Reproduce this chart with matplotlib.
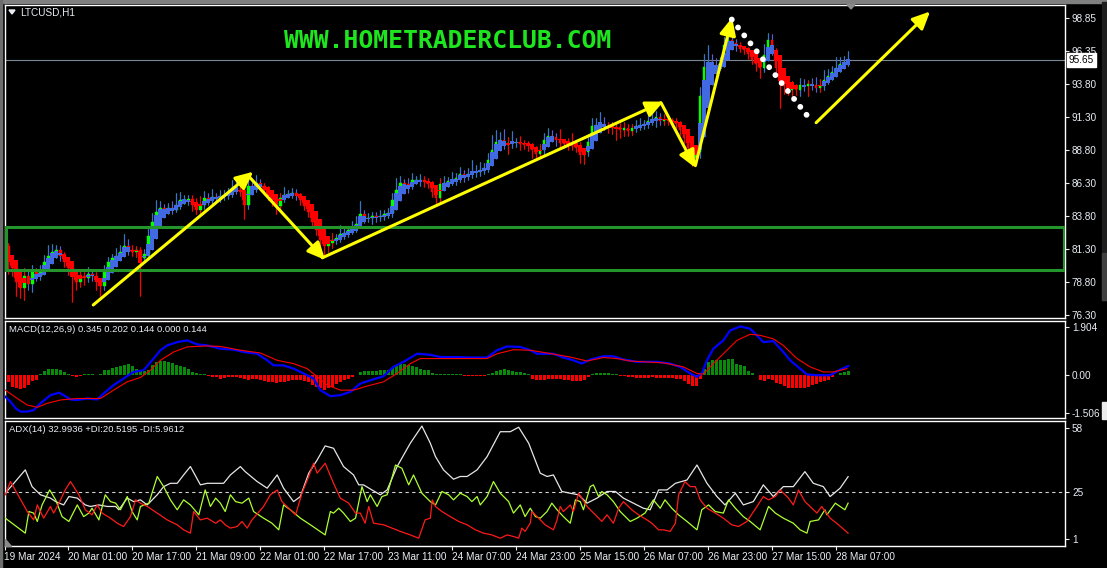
import numpy as np
import matplotlib
matplotlib.use("Agg")
import matplotlib.pyplot as plt
from matplotlib.patches import Rectangle, Polygon, FancyArrowPatch
from matplotlib.transforms import blended_transform_factory

plt.rcParams['font.family'] = ['Liberation Sans', 'DejaVu Sans']

W, H = 1107, 568

# ---------------- price data (LTCUSD, H1) ----------------
first_open = 81.55
closes = [
    80.33, 79.87, 78.81, 78.35, 79.27, 78.66, 79.57, 79.27, 79.72, 80.33,
    80.79, 81.09, 81.24, 80.79, 80.33, 79.87, 79.27, 78.81, 79.27, 79.11,
    79.42, 79.27, 78.81, 78.51, 79.57, 80.33, 80.63, 80.79, 81.09, 81.55,
    81.24, 81.09, 81.24, 80.63, 80.94, 82.31, 83.37, 84.13, 84.43, 84.28,
    84.43, 84.28, 84.66, 85.04, 85.04, 85.12, 84.66, 84.28, 84.66, 85.19,
    85.04, 85.27, 85.19, 85.35, 85.42, 85.65, 85.95, 85.80, 85.65, 84.66,
    86.11, 85.95, 86.33, 86.11, 85.80, 85.35, 85.04, 84.59, 85.19, 85.42,
    85.50, 85.57, 85.35, 85.04, 84.59, 84.13, 83.37, 82.76, 82.00, 81.55,
    81.77, 82.00, 82.15, 82.46, 82.53, 82.76, 82.91, 83.22, 83.98, 83.67,
    83.67, 83.83, 83.75, 83.83, 83.98, 84.05, 85.04, 85.80, 86.33, 86.26,
    86.18, 86.56, 86.56, 86.56, 86.41, 86.26, 85.65, 85.19, 86.26, 86.33,
    86.49, 86.56, 86.71, 87.02, 86.87, 87.02, 87.17, 87.17, 87.32, 87.47,
    88.08, 88.84, 89.45, 89.60, 89.22, 89.37, 89.37, 89.45, 89.30, 89.22,
    89.15, 88.84, 88.54, 88.84, 89.60, 89.91, 89.83, 89.60, 89.37, 89.30,
    89.22, 89.15, 88.99, 88.46, 88.69, 89.45, 90.66, 90.74, 90.82, 90.66,
    90.51, 90.51, 90.59, 90.36, 90.51, 90.28, 90.51, 90.66, 90.74, 90.82,
    91.05, 91.20, 91.35, 91.05, 91.12, 91.05, 90.97, 90.82, 90.36, 89.75,
    88.99, 88.23, 88.69, 92.90, 95.10, 95.50, 95.30, 95.20, 95.45, 96.82,
    97.20, 96.97, 96.74, 96.52, 96.44, 96.14, 95.68, 95.38, 95.07, 96.06,
    97.20, 96.29, 95.07, 94.01, 93.70, 93.40, 93.55, 93.40, 93.78, 93.70,
    93.86, 93.78, 93.55, 93.70, 94.16, 94.46, 94.77, 95.07, 95.38, 95.53,
    95.65,
]
wick_up = (
    [0.2, 0.3, 0.2, 0.3, 0.6, 0.4, 0.5, 0.3, 0.4, 0.5, 0.8, 0.6, 0.4, 0.3]
    + [0.3, 0.2, 0.3, 0.2, 0.4, 0.3, 0.5, 0.4, 0.3, 0.2, 0.5, 0.4, 0.3, 0.6, 0.5]
    + [0.9, 0.5, 0.4, 0.3, 0.2, 0.4, 0.6, 0.7, 0.9, 0.5, 0.3, 0.4, 0.5, 0.9, 0.6,
       0.4, 0.3, 0.3, 0.5, 0.7, 0.5, 0.4, 0.6, 0.3, 0.4]
    + [0.4, 0.3, 0.6, 0.8, 0.3, 0.5, 0.7, 0.4, 0.6, 0.3, 0.2, 0.3, 0.2, 0.3, 0.4,
       0.6, 0.3, 0.4, 0.3, 0.2, 0.2, 0.3, 0.2, 0.3, 0.2, 0.4, 0.5]
    + [0.5, 0.3, 0.7, 0.4, 0.3, 0.5, 0.6, 1.0, 0.3, 0.4, 0.3, 0.3, 0.4, 0.3, 0.4,
       0.5, 0.9, 0.5, 0.3, 0.4, 0.5, 0.3, 0.4, 0.3, 0.3, 0.2, 0.3, 0.4, 0.5, 0.3]
    + [0.6, 0.4, 0.5, 0.3, 0.4, 0.9, 0.5, 0.6, 0.4, 0.5, 1.1, 0.9, 0.6, 0.8, 0.4,
       0.9, 0.3, 0.4, 0.3, 0.3, 0.2, 0.3, 0.4, 0.5, 0.6, 0.4, 0.3, 0.8, 0.3, 0.4,
       0.9, 0.3, 0.4, 0.3, 0.5]
    + [0.6, 0.5, 0.9, 0.5, 0.3, 0.4, 0.3, 0.3, 0.4, 0.3, 0.3, 0.4, 0.5, 0.3, 0.4,
       0.5, 0.4, 0.3, 0.4, 0.3, 0.2, 0.3, 0.2, 0.3, 0.3, 0.2, 0.3]
    + [0.7, 1.0, 1.3, 0.6, 0.5, 0.4, 0.6, 0.6, 0.4, 0.3, 0.3, 0.2, 0.2, 0.3, 0.2,
       0.4, 0.8, 0.5, 0.4, 0.3, 0.2, 0.4, 0.3, 0.5, 0.3, 0.5, 0.4, 0.3, 0.4, 0.6,
       0.5, 0.7, 0.5, 0.4, 0.8, 0.5, 0.4, 0.7]
)
wick_dn = (
    [0.9, 0.6, 1.1, 0.8, 0.9, 0.5, 0.6, 0.4, 0.3, 0.3, 0.4, 0.3, 0.5, 0.4]
    + [0.4, 0.5, 2.0, 0.6, 0.4, 0.5, 0.3, 0.4, 0.6, 0.8, 0.3, 0.4, 0.3, 0.3, 0.3]
    + [0.3, 0.4, 0.3, 0.4, 2.9, 0.3, 0.3, 0.3, 0.4, 0.3, 0.4, 0.3, 0.3, 0.2, 0.3,
       0.3, 0.4, 0.5, 0.3, 0.3, 0.3, 0.4, 0.3, 0.3, 0.3]
    + [0.3, 0.3, 0.4, 0.3, 0.3, 1.1, 0.3, 0.3, 0.3, 0.3, 0.4, 0.3, 0.5, 0.6, 0.3,
       0.3, 0.2, 0.3, 0.3, 0.4, 0.3, 0.4, 0.5, 0.4, 0.6, 0.7, 0.5]
    + [0.4, 0.3, 0.3, 0.4, 0.3, 0.3, 0.3, 0.3, 0.4, 0.3, 0.5, 0.4, 0.3, 0.3, 0.3,
       0.3, 0.3, 0.3, 0.4, 0.6, 0.3, 0.3, 0.5, 0.4, 0.3, 0.4, 0.5, 0.4, 0.3, 0.3]
    + [0.3, 0.4, 0.3, 0.5, 0.3, 0.3, 0.4, 0.3, 0.3, 0.3, 0.3, 0.3, 0.4, 0.3, 0.7,
       0.4, 0.3, 0.5, 0.3, 0.4, 0.6, 0.5, 0.3, 0.3, 0.3, 0.3, 0.5, 0.4, 0.3, 0.4,
       0.3, 0.3, 0.6, 0.7, 0.3]
    + [0.3, 0.4, 0.3, 0.3, 0.4, 0.5, 0.9, 0.6, 0.5, 0.4, 0.3, 0.3, 0.3, 0.3, 0.3,
       0.3, 0.6, 0.3, 0.3, 0.3, 0.4, 0.3, 0.4, 0.4, 0.5, 0.6, 0.5]
    + [0.5, 0.4, 0.4, 0.3, 0.4, 0.3, 0.3, 0.3, 0.3, 0.4, 0.3, 0.3, 0.4, 0.3, 0.6,
       0.8, 0.3, 0.4, 0.3, 0.6, 2.0, 0.6, 0.4, 0.6, 0.4, 0.5, 0.4, 0.8, 0.4, 0.3,
       0.3, 0.3, 0.3, 0.3, 0.2, 0.3, 0.3, 0.3]
)

price_ticks = [98.85, 96.35, 93.80, 91.30, 88.80, 86.30, 83.80, 81.30, 78.80, 76.30]
last_price = 95.65
zone = (79.72, 82.99)
time_labels = ['19 Mar 2024', '20 Mar 01:00', '20 Mar 17:00', '21 Mar 09:00',
               '22 Mar 01:00', '22 Mar 17:00', '23 Mar 11:00', '24 Mar 07:00',
               '24 Mar 23:00', '25 Mar 15:00', '26 Mar 07:00', '26 Mar 23:00',
               '27 Mar 15:00', '28 Mar 07:00']

# drawn objects on the chart (bar index, price)
arrows = [((21.2, 77.06), (61.2, 87.17)),
          ((60.2, 86.79), (79.2, 80.48)),
          ((78.5, 80.64), (163.8, 92.49)),
          ((163.2, 92.41), (171.8, 87.47)),
          ((171.8, 87.63), (181.0, 98.87)),
          ((202.0, 90.89), (230.5, 99.33))]
dotted = ((180.9, 98.72), (201.0, 90.95))

# ---------------- MACD(12,26,9) ----------------
hist = [
    -0.28, -0.48, -0.54, -0.57, -0.52, -0.41, -0.26, -0.19, 0.03, 0.15,
    0.22, 0.24, 0.24, 0.18, 0.11, 0.02, -0.06, -0.09, -0.06, 0.02,
    0.01, 0.02, -0.02, 0.02, 0.18, 0.20, 0.27, 0.31, 0.33, 0.37,
    0.41, 0.35, 0.22, 0.15, 0.14, 0.20, 0.37, 0.49, 0.54, 0.54,
    0.51, 0.45, 0.39, 0.35, 0.30, 0.22, 0.11, 0.05, 0.02, 0.01,
    -0.05, -0.09, -0.11, -0.15, -0.14, -0.11, -0.10, -0.09, -0.12, -0.18,
    -0.19, -0.18, -0.16, -0.19, -0.23, -0.27, -0.30, -0.32, -0.30, -0.27,
    -0.23, -0.20, -0.19, -0.22, -0.24, -0.28, -0.39, -0.48, -0.54, -0.61,
    -0.54, -0.48, -0.37, -0.28, -0.22, -0.15, -0.09, -0.03, 0.10, 0.15,
    0.15, 0.15, 0.15, 0.18, 0.18, 0.20, 0.28, 0.36, 0.41, 0.41,
    0.37, 0.33, 0.30, 0.24, 0.20, 0.18, 0.05, 0.02, 0.02, 0.02,
    0.03, 0.02, 0.03, 0.02, -0.06, -0.06, -0.06, -0.06, -0.06, -0.06,
    0.02, 0.07, 0.15, 0.20, 0.22, 0.20, 0.16, 0.12, 0.10, 0.07,
    0.02, -0.15, -0.19, -0.19, -0.19, -0.16, -0.16, -0.16, -0.17, -0.19,
    -0.21, -0.23, -0.26, -0.24, -0.22, -0.09, 0.04, 0.05, 0.05, 0.05,
    0.05, 0.04, 0.02, -0.06, -0.06, -0.08, -0.11, -0.12, -0.12, -0.13,
    -0.12, -0.11, -0.12, -0.13, -0.12, -0.12, -0.13, -0.15, -0.16, -0.25,
    -0.35, -0.44, -0.45, -0.15, 0.24, 0.52, 0.60, 0.60, 0.60, 0.60,
    0.63, 0.62, 0.44, 0.40, 0.33, 0.15, 0.05, -0.02, -0.22, -0.24,
    -0.15, -0.19, -0.32, -0.37, -0.45, -0.52, -0.54, -0.54, -0.54, -0.52,
    -0.48, -0.41, -0.35, -0.30, -0.26, -0.22, -0.09, -0.02, 0.06, 0.12,
    0.14,
]
macd_line = [(-0.8, -0.87), (0.5, -1.07), (1.8, -1.33), (3, -1.46), (4.7, -1.46),
             (6.3, -1.40), (8, -1.13), (10.5, -0.81), (12.6, -0.71), (13.8, -0.81),
             (15.5, -0.98), (17.2, -1.0), (19.7, -0.94), (22.2, -0.98), (23.8, -0.74),
             (26.3, -0.41), (28.8, -0.15), (31.3, 0.11), (33.8, 0.18), (36.3, 0.64),
             (38, 0.97), (39.7, 1.16), (42.2, 1.29), (44.7, 1.36), (47.2, 1.20),
             (49.7, 1.16), (53, 1.03), (56.3, 0.99), (58.8, 0.90), (62.2, 0.83),
             (64.7, 0.57), (66.3, 0.37), (68.8, 0.37), (71.3, 0.24), (73.8, 0.05),
             (76.3, -0.15), (78, -0.61), (80.5, -0.85), (83, -0.81), (85.5, -0.68),
             (88, -0.35), (90.5, -0.22), (93.8, -0.06), (96.3, 0.31), (98.8, 0.51),
             (102.2, 0.83), (105.5, 0.79), (108, 0.70), (112.2, 0.70), (115.5, 0.68),
             (119.7, 0.68), (122.2, 0.97), (124.7, 1.12), (128, 1.10), (130.5, 0.97),
             (132.2, 0.83), (136.3, 0.83), (138.8, 0.68), (141.3, 0.57), (143.4, 0.44),
             (145.5, 0.60), (148.8, 0.73), (151.3, 0.73), (153.8, 0.60), (157.2, 0.51),
             (162.2, 0.51), (165.5, 0.44), (168, 0.31), (170.5, 0.05), (172.2, -0.08),
             (173.4, 0.05), (174.7, 0.57), (176.3, 1.03), (178.8, 1.36), (180.5, 1.75),
             (183, 1.91), (185.5, 1.82), (187.6, 1.49), (188.8, 1.29), (191.3, 1.33),
             (193.8, 0.90), (195.5, 0.57), (198, 0.24), (199.7, 0.01), (202.2, -0.02),
             (205.5, -0.02), (208, 0.20), (210, 0.34)]
signal_line = [(-0.8, -0.61), (2.2, -0.94), (4.7, -1.20), (7.2, -1.29), (9.7, -1.13),
               (13, -1.0), (17.2, -0.94), (23, -0.94), (26.3, -0.61), (29.7, -0.28),
               (33, -0.11), (35.5, 0.18), (38, 0.57), (41.3, 0.90), (44.7, 1.10),
               (49.7, 1.14), (53, 1.12), (58, 0.97), (63, 0.86), (67.2, 0.57),
               (71.3, 0.44), (74.7, 0.24), (77.2, -0.08), (79.7, -0.41), (83, -0.61),
               (86.3, -0.61), (89.7, -0.45), (93.8, -0.28), (97.2, 0.05), (100.5, 0.44),
               (103, 0.64), (105.5, 0.64), (119.7, 0.64), (122.2, 0.83), (126.3, 0.99),
               (130.5, 0.97), (134.7, 0.86), (140.5, 0.70), (144.7, 0.54), (148.8, 0.68),
               (152.2, 0.64), (155.5, 0.54), (163.8, 0.47), (168.8, 0.31), (172.2, 0.05),
               (173.8, 0.02), (176.3, 0.44), (178.8, 0.83), (182.2, 1.36), (185.5, 1.60),
               (188, 1.56), (191.3, 1.42), (193.8, 1.16), (197.2, 0.64), (200.5, 0.31),
               (203.8, 0.11), (206.3, 0.11), (209.7, 0.24)]

# ---------------- ADX(14) ----------------
adx_line = [(-0.8, 24.5), (4.2, 36.5), (5.9, 27.9), (8, 23.7), (10.5, 22.0), (11.8, 20.2),
            (13.8, 18.5), (15.1, 22.8), (17.2, 22.0), (19.2, 18.5), (20.5, 17.7), (22.6, 18.5),
            (24.7, 17.7), (26.8, 17.7), (27.6, 16.0), (29.7, 22.0), (31.3, 20.2), (33, 21.1),
            (34.7, 18.5), (37.2, 23.7), (38.8, 27.9), (40.5, 29.6), (42.2, 29.6), (43.8, 33.9),
            (45.5, 38.2), (48, 28.8), (49.7, 29.6), (52.2, 29.6), (53.8, 29.6), (55.5, 33.9),
            (58, 38.2), (59.2, 35.6), (62.2, 30.5), (64.7, 27.1), (67.2, 33.9), (68.8, 27.1),
            (71.3, 20.2), (73, 22.8), (75.1, 34.8), (77.2, 41.6), (79.2, 48.8), (81.3, 47.6),
            (83.8, 38.2), (86.3, 33.9), (87.6, 28.8), (88.8, 28.8), (90.9, 26.2), (93, 23.7),
            (94.7, 26.2), (97.2, 38.2), (100.5, 50.2), (103.4, 59.0), (105.5, 50.2), (106.8, 43.3),
            (108.8, 36.5), (111.3, 31.7), (113, 33.1), (114.7, 33.1), (117.2, 36.5), (119.7, 43.3),
            (123, 56.1), (125.5, 56.1), (127.6, 58.4), (130.1, 50.2), (133, 34.8), (134.7, 33.1),
            (136.3, 33.9), (138.4, 25.4), (140.5, 24.5), (142.6, 23.7), (144.7, 19.4), (147.2, 22.0),
            (149.7, 25.4), (151.8, 25.4), (153.8, 22.0), (156.3, 19.4), (158.8, 16.8), (160.5, 16.0),
            (162.6, 26.2), (164.7, 26.2), (166.8, 29.6), (169.7, 31.3), (172.2, 39.0), (174.7, 29.6),
            (177.2, 22.8), (179.2, 18.5), (181.8, 24.5), (183.8, 18.5), (186.3, 20.2), (188.8, 28.8),
            (191.3, 22.8), (193.8, 27.9), (196.3, 27.9), (199.2, 35.6), (201.3, 29.6), (203.8, 27.9),
            (205.5, 22.8), (208, 27.1), (210, 33.0)]
plus_di = [(-0.8, 11.7), (4.2, 4.0), (5.1, 15.1), (6.3, 14.3), (7.2, 10.0), (8.4, 18.5),
           (10.3, 26.2), (11.8, 21.1), (13.4, 12.5), (15.1, 10.0), (17.2, 18.5), (18.8, 12.5),
           (20.1, 14.3), (20.9, 16.8), (22.6, 10.8), (24.2, 23.7), (25.5, 20.2), (26.8, 19.4),
           (28, 16.0), (29.7, 22.8), (30.9, 15.1), (32.2, 10.8), (33, 17.7), (35.1, 19.4),
           (37.2, 33.1), (38.8, 27.9), (40.5, 21.1), (42.2, 16.0), (43.8, 21.1), (45.5, 18.5),
           (47.6, 13.4), (49.2, 26.2), (50.5, 17.7), (51.8, 22.0), (53, 19.4), (54.2, 15.1),
           (55.5, 23.7), (56.8, 20.2), (58.4, 19.4), (60.1, 22.0), (61.3, 15.1), (63.8, 11.7),
           (65.9, 9.1), (67.6, 5.7), (68.8, 18.5), (70.5, 16.0), (73, 11.7), (75.5, 8.3),
           (79.2, 3.1), (80.5, 15.1), (81.3, 14.3), (82.6, 16.8), (83.8, 14.3), (85.5, 10.0),
           (86.8, 11.7), (88.4, 27.9), (89.7, 20.2), (90.5, 23.7), (92.2, 17.7), (93.4, 22.8),
           (94.7, 23.7), (96.8, 39.0), (98.4, 37.3), (100.1, 28.8), (101.3, 33.9), (103.4, 24.5),
           (105.5, 20.2), (106.8, 18.5), (108.4, 25.4), (110.1, 23.7), (111.3, 21.1), (113, 24.5),
           (114.7, 22.8), (115.9, 20.2), (117.2, 22.8), (118, 18.5), (119.7, 22.8), (121.3, 30.5),
           (123, 24.5), (125.1, 20.2), (126.3, 14.3), (128, 18.5), (129.2, 12.5), (130.5, 16.8),
           (131.8, 12.5), (133, 11.7), (134.7, 15.1), (135.9, 19.4), (137.2, 16.0), (138.8, 12.5),
           (140.5, 9.1), (141.8, 21.1), (143, 20.2), (143.8, 16.0), (145.5, 27.9), (146.3, 28.8),
           (147.6, 22.8), (148.4, 25.4), (149.7, 23.7), (151.3, 20.2), (153, 15.1), (155.5, 10.0),
           (157.2, 11.7), (159.2, 14.3), (161.3, 21.1), (163, 16.8), (164.2, 21.1), (165.9, 16.8),
           (167.6, 13.4), (169.7, 10.0), (172.2, 5.7), (173.4, 16.0), (175.1, 18.5), (176.8, 15.1),
           (178.8, 14.3), (180.1, 21.1), (181.8, 16.8), (183.8, 12.5), (185.5, 10.0), (188, 5.7),
           (190.1, 17.7), (191.8, 14.3), (193.8, 11.7), (196.3, 9.1), (198, 5.7), (199.7, 4.0),
           (200.5, 10.0), (202.6, 10.8), (204.2, 16.0), (204.7, 13.4), (206.8, 19.4), (208, 17.7),
           (209.2, 16.0), (210, 19.4)]
minus_di = [(-0.8, 23.7), (0.5, 30.5), (2.6, 22.8), (4.7, 15.1), (6.3, 10.8), (7.2, 18.5),
            (8.8, 11.7), (10.5, 17.7), (11.3, 14.3), (12.6, 19.4), (14.2, 26.2), (15.5, 30.5),
            (17.6, 23.7), (19.2, 16.0), (20.9, 13.4), (22.2, 18.5), (23.4, 14.3), (25.5, 11.7),
            (27.2, 9.1), (28.8, 7.4), (30.5, 12.5), (31.8, 21.1), (33, 19.4), (34.7, 17.7),
            (37.2, 14.3), (39.7, 10.8), (42.2, 8.3), (43.8, 5.7), (45.5, 4.0), (46.3, 15.1),
            (48, 10.8), (49.7, 11.7), (51.8, 9.1), (53, 10.8), (54.2, 8.3), (55.5, 6.6),
            (57.2, 7.4), (58.4, 10.0), (59.7, 6.6), (60.9, 10.8), (63.8, 17.7), (65.5, 23.7),
            (67.2, 26.2), (68.4, 20.2), (70.5, 16.0), (71.8, 13.4), (73.4, 24.5), (75.1, 33.1),
            (76.3, 39.9), (77.2, 34.8), (79.2, 39.9), (81.3, 29.6), (83, 22.0), (85.1, 19.4),
            (86.8, 14.3), (88, 14.3), (89.2, 9.1), (90.1, 17.7), (91.3, 9.1), (93.8, 8.3),
            (95.9, 6.6), (98, 4.9), (100.5, 3.1), (102.6, 1.4), (104.2, 10.8), (105.5, 11.7),
            (106, 21.1), (106.8, 17.7), (108.4, 15.1), (110.5, 12.5), (112.6, 10.0), (114.7, 8.3),
            (116.8, 5.7), (118.8, 4.0), (120.9, 3.1), (123, 1.4), (124.7, 3.1), (126.3, 2.3),
            (127.6, 1.4), (128.4, 6.6), (129.2, 4.9), (130.5, 9.1), (130.9, 15.1), (132.6, 11.7),
            (134.2, 8.3), (136.3, 5.7), (137.2, 10.8), (138, 17.7), (138.8, 15.1), (140.5, 18.5),
            (141.3, 15.1), (142.6, 24.5), (144.7, 17.7), (146.8, 13.4), (148.4, 10.0), (149.7, 13.4),
            (151.3, 9.1), (152.6, 16.8), (153.8, 20.2), (155.9, 16.0), (157.6, 13.4), (159.7, 10.8),
            (160.9, 9.1), (162.6, 5.7), (163.8, 5.7), (165.5, 4.9), (166.8, 9.1), (167.6, 23.7),
            (169.2, 30.5), (170.5, 27.9), (171.8, 27.9), (173, 21.1), (174.7, 16.8), (176.8, 14.3),
            (178.8, 11.7), (180.9, 8.3), (182.6, 7.4), (184.7, 10.0), (187.2, 17.7), (188.8, 22.8),
            (190.1, 21.1), (191.8, 22.8), (193, 26.2), (195.1, 22.0), (196.3, 18.5), (197.6, 26.2),
            (199.2, 20.2), (200.5, 17.7), (202.2, 14.3), (203.4, 17.7), (205.5, 11.7), (207.6, 8.3),
            (210, 4.0)]


def frac(x0, y0, x1, y1):
    # pixel box -> figure fraction rect
    return [x0 / W, 1 - y1 / H, (x1 - x0) / W, (y1 - y0) / H]


def px(x, y):
    return x / W, 1 - y / H


fig = plt.figure(figsize=(W / 100, H / 100), dpi=100, facecolor='black')
ax = fig.add_axes(frac(4.5, 4.5, 1065, 318))
am = fig.add_axes(frac(4.5, 320.5, 1065, 418))
aa = fig.add_axes(frac(4.5, 421, 1065, 546))

fg = '#e8eef4'
for a in (ax, am, aa):
    a.set_facecolor('black')
    for s in a.spines.values():
        s.set_color('white')
        s.set_linewidth(1)
    a.set_xlim(-1, 264.25)
    a.yaxis.tick_right()
    a.tick_params(axis='both', colors=fg, labelsize=7.2, length=3, width=0.8, pad=2)
    a.set_xticks([])

# ---- candles + heiken ashi ----
c = np.array(closes)
o = np.concatenate([[first_open], c[:-1]])
hi = np.maximum(o, c) + np.array(wick_up)
lo = np.minimum(o, c) - np.array(wick_dn)
x = np.arange(len(c))

ha_c = (o + hi + lo + c) / 4
ha_o = np.empty_like(ha_c)
ha_o[0] = (o[0] + c[0]) / 2
for i in range(1, len(c)):
    ha_o[i] = (ha_o[i - 1] + ha_c[i - 1]) / 2
ha_hi = np.maximum(hi, np.maximum(ha_o, ha_c))
ha_lo = np.minimum(lo, np.minimum(ha_o, ha_c))

ccol = np.where(c >= o, '#00ff00', '#ff0000')
hcol = np.where(ha_c >= ha_o, '#4169e1', '#ff0000')
ax.vlines(x, lo, hi, colors=ccol, lw=0.8, zorder=2)
ax.vlines(x, ha_lo, ha_hi, colors=hcol, lw=0.8, zorder=2.5)
ax.bar(x, c - o, bottom=o, width=0.6, color=ccol, edgecolor=ccol, linewidth=0.3, zorder=3)
ax.bar(x, ha_c - ha_o, bottom=ha_o, width=1.0, color=hcol, linewidth=0, zorder=3.5)

ax.set_ylim(76.07, 99.86)
ax.set_yticks(price_ticks)
ax.set_yticklabels(['%.2f' % v for v in price_ticks])

ax.axhline(last_price, color='#7a8896', lw=0.8, zorder=1.8)
ax.add_patch(Rectangle((-0.5, zone[0]), 264.5, zone[1] - zone[0], fill=False,
                       edgecolor='#23952a', lw=2.2, zorder=5))
for (x0, y0), (x1, y1) in arrows:
    ax.add_patch(FancyArrowPatch((x0, y0), (x1, y1),
                                 arrowstyle='-|>,head_length=0.75,head_width=0.35',
                                 mutation_scale=14, color='#ffff00', lw=2.2,
                                 shrinkA=0, shrinkB=0, zorder=6))
ax.plot([dotted[0][0], dotted[1][0]], [dotted[0][1], dotted[1][1]], color='white',
        lw=4.2, dashes=(0.01, 1.72), dash_capstyle='round', zorder=6)

btr = blended_transform_factory(ax.transAxes, ax.transData)
ax.text(1.0035, last_price, '%.2f' % last_price, transform=btr, color='black', fontsize=7.2,
        ha='left', va='center', clip_on=False, zorder=10,
        bbox=dict(facecolor='white', edgecolor='white', pad=1.2))

# ---- MACD panel ----
hv = np.array(hist)
am.bar(x, hv, width=0.75, color=np.where(hv >= 0, '#0a8a0a', '#ff0000'), linewidth=0, zorder=2)
am.plot(*zip(*macd_line), color='#0000ff', lw=1.6, zorder=3)
am.plot(*zip(*signal_line), color='#ff0000', lw=0.8, zorder=4)
am.set_ylim(-1.713, 2.146)
am.set_yticks([1.904, 0.0, -1.506])
am.set_yticklabels(['1.904', '0.00', '-1.506'])

# ---- ADX panel ----
aa.axhline(25, color='#d0d0d0', lw=0.8, dashes=(3, 3), zorder=1)
aa.plot(*zip(*adx_line), color='#e6e6e6', lw=0.9, zorder=2)
aa.plot(*zip(*plus_di), color='#adff2f', lw=0.9, zorder=3)
aa.plot(*zip(*minus_di), color='#ff1a1a', lw=0.9, zorder=4)
aa.set_ylim(-2.6, 61.6)
aa.set_yticks([58, 25, 1])
aa.set_yticklabels(['58', '25', '1'])
aa.set_xticks([-1 + 16 * k for k in range(len(time_labels))])
aa.set_xticklabels(time_labels)
aa.tick_params(axis='x', pad=1)
for t in aa.get_xticklabels():
    t.set_ha('left')

# ---- texts ----
fig.text(*px(20, 12.5), 'LTCUSD,H1', color=fg, fontsize=7.2, ha='left', va='center')
fig.patches.append(Polygon([px(9, 10), px(15, 10), px(12, 14)], closed=True, color=fg,
                           transform=fig.transFigure))
fig.text(*px(9, 329), 'MACD(12,26,9) 0.345 0.202 0.144 0.000 0.144', color=fg,
         fontsize=6.8, ha='left', va='center')
fig.text(*px(9, 430), 'ADX(14) 32.9936 +DI:20.5195 -DI:5.9612', color=fg,
         fontsize=6.8, ha='left', va='center')
fig.text(*px(448, 41), 'WWW.HOMETRADERCLUB.COM', color='#1ee61e', fontsize=17.8,
         family='DejaVu Sans Mono', weight='bold', ha='center', va='center')

# window chrome
fig.patches.append(Polygon([px(847, 4.5), px(855, 4.5), px(851, 9)], closed=True,
                           color='#8a8a8a', transform=fig.transFigure))
fig.patches.append(Polygon([px(5, 539), px(5, 545.5), px(11, 545.5)], closed=True,
                           color='#8a8a8a', transform=fig.transFigure))
for (x0, y0, x1, y1, col) in [(0, 0, W, 2.5, '#808080'), (0, 0, 1.5, H, '#6e6e6e'),
                              (1102, 2.5, W, 300, '#1e1e1e'), (1102, 253, W, 300, '#404040'),
                              (1102, 402, W, 419, '#ececec')]:
    fig.patches.append(Rectangle((x0 / W, 1 - y1 / H), (x1 - x0) / W, (y1 - y0) / H,
                                 color=col, transform=fig.transFigure, zorder=0))

fig.savefig('out.png', dpi=100, facecolor='black')
